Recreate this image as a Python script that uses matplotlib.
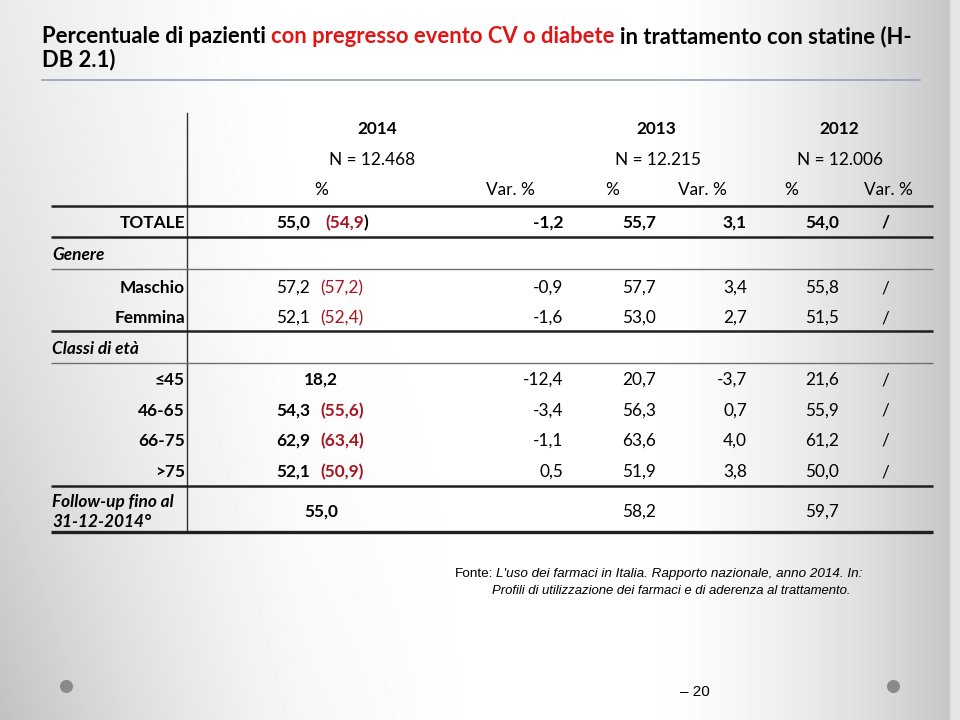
import matplotlib.pyplot as plt
import numpy as np

# --- table data -------------------------------------------------------------
row_labels = [
    "TOTALE", "Genere", "Maschio", "Femmina", "Classi di età",
    "≤45", "46-65", "66-75", ">75", "Follow-up fino al\n31-12-2014°",
]
section_rows = ["Genere", "Classi di età", "Follow-up fino al\n31-12-2014°"]

years = ["2014", "2013", "2012"]
sample_sizes = ["N = 12.468", "N = 12.215", "N = 12.006"]
sub_headers = ["%", "Var. %", "%", "Var. %", "%", "Var. %"]

pct_2014 = [55.0, None, 57.2, 52.1, None, 18.2, 54.3, 62.9, 52.1, 55.0]
pct_2014_prev = [54.9, None, 57.2, 52.4, None, None, 55.6, 63.4, 50.9, None]
var_2014 = [-1.2, None, -0.9, -1.6, None, -12.4, -3.4, -1.1, 0.5, None]
pct_2013 = [55.7, None, 57.7, 53.0, None, 20.7, 56.3, 63.6, 51.9, 58.2]
var_2013 = [3.1, None, 3.4, 2.7, None, -3.7, 0.7, 4.0, 3.8, None]
pct_2012 = [54.0, None, 55.8, 51.5, None, 21.6, 55.9, 61.2, 50.0, 59.7]
var_2012 = ["/", None, "/", "/", None, "/", "/", "/", "/", None]

# --- layout (pixel coordinates of the 960x720 slide) -------------------------
row_y = [223, 255, 288, 318, 349, 380, 411, 441, 472, 512]
rule_y = [206, 237, 269, 331, 363, 486, 532]
rule_lw = [1.8, 1.8, 1.0, 1.8, 1.0, 1.8, 2.4]
rule_col = ["#202020", "#202020", "#707070", "#202020", "#707070", "#202020", "#202020"]

FONT = "Lato"
RED_TITLE = "#e01515"
RED_PREV = "#a8141e"
TS = 12.4


def fmt(v):
    return f"{v:.1f}".replace(".", ",")


def draw_background(ax):
    """
    Grey slide gradient, lighter in the middle.
    """
    x = np.linspace(0, 1, 480)
    y = np.linspace(0, 1, 360)
    X, Y = np.meshgrid(x, y)
    left = 0.15 * np.clip(1 - X / 0.32, 0, 1) ** 1.4 * (0.55 + 0.45 * Y)
    left += 0.09 * np.clip(1 - X / 0.5, 0, 1) * Y ** 2
    right = 0.22 * np.clip((X - 0.66) / 0.33, 0, 1) ** 1.7
    shade = 1 - left - right
    shade[:, -5:] = 0.9
    ax.imshow(shade, cmap="gray", vmin=0, vmax=1, extent=(0, 960, 720, 0),
              aspect="auto", zorder=0, interpolation="bilinear")


def chain(ax, parts, x, y, gap=4, **kw):
    """
    Write a line of text made of pieces with different colours / styles.
    """
    first_text, first_kw = parts[0]
    prev = ax.text(x, y, first_text, va="baseline", ha="left",
                   **{**kw, **first_kw})
    for s, extra in parts[1:]:
        prev = ax.annotate(s, xy=(1, 0), xycoords=prev,
                           xytext=(extra.pop("gap", gap), 0),
                           textcoords="offset points",
                           va="bottom", ha="left", **{**kw, **extra})
    return prev


fig = plt.figure(figsize=(9.6, 7.2), dpi=100)
ax = fig.add_axes([0, 0, 1, 1])
ax.set_xlim(0, 960)
ax.set_ylim(720, 0)
ax.axis("off")

draw_background(ax)

# title
title_kw = dict(family=FONT, fontsize=15.8, fontweight="bold", color="black")
chain(ax, [
    ("Percentuale di pazienti", {}),
    ("con pregresso evento CV o diabete", {"color": RED_TITLE}),
    ("in trattamento con statine (H-", {}),
], 42, 43, **title_kw)
ax.text(42, 66, "DB 2.1)", va="baseline", ha="left", **title_kw)
ax.plot([42, 920], [80, 80], color="#8fa3b8", lw=1.2, zorder=2)

# headers
for year, n, xc, xn in zip(years, sample_sizes, [377, 656, 839], [372, 658, 840]):
    ax.text(xc, 129, year, ha="center", va="center", family=FONT,
            fontsize=TS, fontweight="bold")
    ax.text(xn, 160, n, ha="center", va="center", family=FONT, fontsize=TS)
for h, xs in zip(sub_headers, [321, 510, 612, 702, 791, 888]):
    ax.text(xs, 190, h, ha="center", va="center", family=FONT, fontsize=TS)

# table rules
ax.plot([187, 187], [113, 532], color="#303030", lw=1.0, zorder=2)
for yy, lw, c in zip(rule_y, rule_lw, rule_col):
    ax.plot([51, 933], [yy, yy], color=c, lw=lw, zorder=2,
            solid_capstyle="butt")

# rows
for i, label in enumerate(row_labels):
    y = row_y[i]
    if label in section_rows:
        ax.text(52, y, label, ha="left", va="center", family=FONT,
                fontsize=TS, fontweight="bold", style="italic",
                linespacing=1.25)
    else:
        ax.text(185, y, label, ha="right", va="center", family=FONT,
                fontsize=TS, fontweight="bold")

    strong = i == 0
    strong_2014 = label not in ("Maschio", "Femmina")
    w_all = "bold" if strong else "normal"
    w_14 = "bold" if strong_2014 else "normal"

    if pct_2014[i] is not None:
        if pct_2014_prev[i] is not None:
            ax.text(310, y, fmt(pct_2014[i]), ha="right", va="center",
                    family=FONT, fontsize=TS, fontweight=w_14)
            x0 = 325 if strong else 320
            if strong:
                # the closing bracket of the total row is black
                chain(ax, [
                    ("(" + fmt(pct_2014_prev[i]), {"color": RED_PREV}),
                    (")", {"gap": 0}),
                ], x0, y + 5, family=FONT, fontsize=TS, fontweight=w_14)
            else:
                ax.text(x0, y, f"({fmt(pct_2014_prev[i])})", ha="left",
                        va="center", family=FONT, fontsize=TS,
                        fontweight=w_14, color=RED_PREV)
        else:
            ax.text(321, y, fmt(pct_2014[i]), ha="center", va="center",
                    family=FONT, fontsize=TS, fontweight=w_14)

    for vals, xr in [(var_2014, 563), (pct_2013, 656), (var_2013, 747),
                     (pct_2012, 839)]:
        if vals[i] is not None:
            ax.text(xr, y, fmt(vals[i]), ha="right", va="center",
                    family=FONT, fontsize=TS, fontweight=w_all)
    if var_2012[i] is not None:
        ax.text(885, y, var_2012[i], ha="center", va="center",
                family=FONT, fontsize=TS, fontweight=w_all)

# source note
note_kw = dict(family="Liberation Sans", fontsize=9.7, color="black")
chain(ax, [
    ("Fonte:", {}),
    ("L'uso dei farmaci in Italia. Rapporto nazionale, anno 2014. In:",
     {"style": "italic"}),
], 455, 577, gap=2.0, **note_kw)
ax.text(492, 594, "Profili di utilizzazione dei farmaci e di aderenza al trattamento.",
        ha="left", va="baseline", style="italic",
        **{**note_kw, "fontsize": 9.45})

# slide footer
ax.scatter([66, 893], [686, 686], s=70, color="#8a8a8a", zorder=3)
ax.text(710, 696, "– 20", ha="right", va="baseline",
        family="Liberation Sans", fontsize=11)

plt.savefig("out.png", dpi=100)
